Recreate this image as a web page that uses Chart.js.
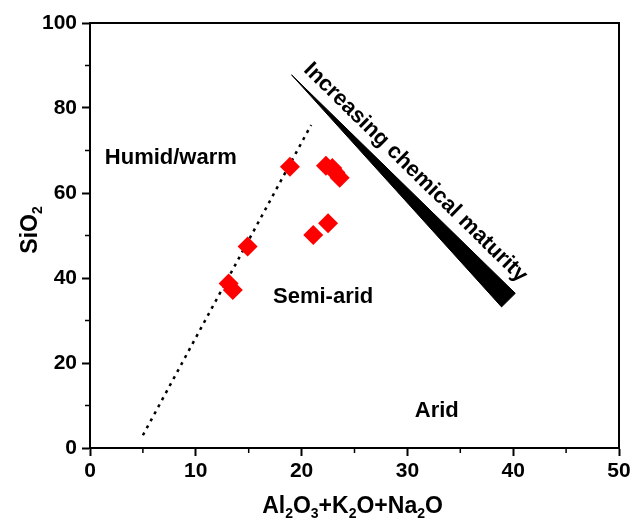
<!DOCTYPE html>
<html>
<head>
<meta charset="utf-8">
<script src="https://cdn.jsdelivr.net/npm/chart.js@4.4.0/dist/chart.umd.min.js"></script>
<style>
  body { margin: 0; background: #fff; }
</style>
</head>
<body>
<canvas id="graficoMadurez" width="632" height="521"></canvas>
<script>
// Muestras: Al2O3+K2O+Na2O frente a SiO2
var alcalisAl = [13.1, 13.5, 14.9, 18.9, 22.3, 22.9, 23.2, 23.6, 21.1, 22.5];
var silice    = [38.7, 37.2, 47.4, 66.2, 66.4, 65.9, 64.8, 63.6, 50.1, 52.9];

// Límite punteado entre clima húmedo y semiárido
var limiteX = [5.0, 20.9];
var limiteY = [3.0, 76.0];

// Cuña de madurez química (punta, esquina superior, esquina inferior, punta)
var cunaX = [19.05, 40.2, 38.9, 19.05];
var cunaY = [87.8, 36.4, 33.2, 87.8];

var ticksX = [0, 10, 20, 30, 40, 50];
var ticksY = [0, 20, 40, 60, 80, 100];
var menoresX = [5, 15, 25, 35, 45];
var menoresY = [10, 30, 50, 70, 90];

var zonas = ['Humid/warm', 'Semi-arid', 'Arid'];
var textoCuna = 'Increasing chemical maturity';

var familia = '"Liberation Sans", Arial, sans-serif';

function puntos(xs, ys) {
  return xs.map(function (x, i) { return { x: x, y: ys[i] }; });
}

// Texto con subíndices: el carácter tras '_' va abajo y más pequeño
function textoSub(ctx, texto, x, y, tam, centrar) {
  var trozos = [];
  for (var i = 0; i < texto.length; i++) {
    if (texto[i] === '_') { trozos.push([texto[i + 1], true]); i++; }
    else trozos.push([texto[i], false]);
  }
  var fNormal = 'bold ' + tam + 'px ' + familia;
  var fSub = 'bold ' + Math.round(tam * 0.62) + 'px ' + familia;
  var ancho = 0;
  trozos.forEach(function (t) {
    ctx.font = t[1] ? fSub : fNormal;
    ancho += ctx.measureText(t[0]).width;
  });
  var cx = centrar ? x - ancho / 2 : x;
  trozos.forEach(function (t) {
    ctx.font = t[1] ? fSub : fNormal;
    ctx.fillText(t[0], cx, t[1] ? y + tam * 0.22 : y);
    cx += ctx.measureText(t[0]).width;
  });
}

var decoracion = {
  id: 'decoracion',
  afterDraw: function (chart) {
    var ctx = chart.ctx;
    var a = chart.chartArea;
    var sx = chart.scales.x, sy = chart.scales.y;
    ctx.save();
    ctx.fillStyle = '#000';
    ctx.strokeStyle = '#000';

    // marco superior y derecho
    ctx.lineWidth = 2;
    ctx.beginPath();
    ctx.moveTo(a.left, a.top);
    ctx.lineTo(a.right, a.top);
    ctx.lineTo(a.right, a.bottom);
    ctx.stroke();

    // marcas menores
    ctx.lineWidth = 1.5;
    ctx.beginPath();
    menoresX.forEach(function (v) {
      var px = sx.getPixelForValue(v);
      ctx.moveTo(px, a.bottom);
      ctx.lineTo(px, a.bottom + 5);
    });
    menoresY.forEach(function (v) {
      var py = sy.getPixelForValue(v);
      ctx.moveTo(a.left, py);
      ctx.lineTo(a.left - 5, py);
    });
    ctx.stroke();

    // zonas climáticas
    var posZonas = [[1.4, 66.8], [17.3, 34.1], [30.7, 7.2]];
    ctx.font = 'bold 22px ' + familia;
    ctx.textAlign = 'left';
    ctx.textBaseline = 'alphabetic';
    zonas.forEach(function (z, i) {
      ctx.fillText(z, sx.getPixelForValue(posZonas[i][0]), sy.getPixelForValue(posZonas[i][1]));
    });

    // rótulo de la cuña
    ctx.save();
    ctx.translate(sx.getPixelForValue(30.75), sy.getPixelForValue(64.8));
    ctx.rotate(44.4 * Math.PI / 180);
    ctx.font = 'bold 22px ' + familia;
    ctx.textAlign = 'center';
    ctx.textBaseline = 'middle';
    ctx.fillText(textoCuna, 0, 0);
    ctx.restore();

    // títulos de los ejes
    ctx.textAlign = 'left';
    ctx.textBaseline = 'alphabetic';
    textoSub(ctx, 'Al_2O_3+K_2O+Na_2O', (a.left + a.right) / 2 - 2, 513, 23, true);
    ctx.save();
    ctx.translate(37, 230);
    ctx.rotate(-Math.PI / 2);
    textoSub(ctx, 'SiO_2', 0, 0, 23, true);
    ctx.restore();

    ctx.restore();
  }
};

var ctx = document.getElementById('graficoMadurez').getContext('2d');

var grafico = new Chart(ctx, {
  type: 'scatter',
  data: {
    datasets: [{
      label: 'Muestras',
      data: puntos(alcalisAl, silice),
      pointStyle: 'rectRot',
      pointRadius: 10,
      backgroundColor: '#ff0000',
      borderColor: '#ff0000',
      borderWidth: 0
    }, {
      label: 'Límite',
      data: puntos(limiteX, limiteY),
      showLine: true,
      pointRadius: 0,
      borderColor: '#000',
      borderWidth: 2.5,
      borderDash: [3, 5]
    }, {
      label: 'Madurez',
      data: puntos(cunaX, cunaY),
      showLine: true,
      fill: 'shape',
      pointRadius: 0,
      borderColor: '#000',
      backgroundColor: '#000',
      borderWidth: 1
    }]
  },
  options: {
    responsive: false,
    animation: false,
    devicePixelRatio: 1,
    layout: { padding: { left: 0, right: 13, top: 23, bottom: 0 } },
    plugins: {
      legend: { display: false },
      tooltip: { enabled: false }
    },
    scales: {
      x: {
        type: 'linear',
        min: 0,
        max: 50,
        afterBuildTicks: function (s) { s.ticks = ticksX.map(function (v) { return { value: v }; }); },
        afterFit: function (s) { s.height = 73; s.paddingLeft = 0; s.paddingRight = 0; },
        grid: { drawOnChartArea: false, drawTicks: true, tickLength: 8, tickWidth: 2, tickColor: '#000' },
        border: { display: true, color: '#000', width: 2 },
        ticks: { color: '#000', padding: 3, maxRotation: 0, font: { family: familia, size: 21, weight: 'bold' } }
      },
      y: {
        type: 'linear',
        min: 0,
        max: 100,
        afterBuildTicks: function (s) { s.ticks = ticksY.map(function (v) { return { value: v }; }); },
        afterFit: function (s) { s.width = 90; s.paddingTop = 0; s.paddingBottom = 0; },
        grid: { drawOnChartArea: false, drawTicks: true, tickLength: 8, tickWidth: 2, tickColor: '#000' },
        border: { display: true, color: '#000', width: 2 },
        ticks: { color: '#000', padding: 5, font: { family: familia, size: 21, weight: 'bold' } }
      }
    }
  },
  plugins: [decoracion]
});
</script>
</body>
</html>
